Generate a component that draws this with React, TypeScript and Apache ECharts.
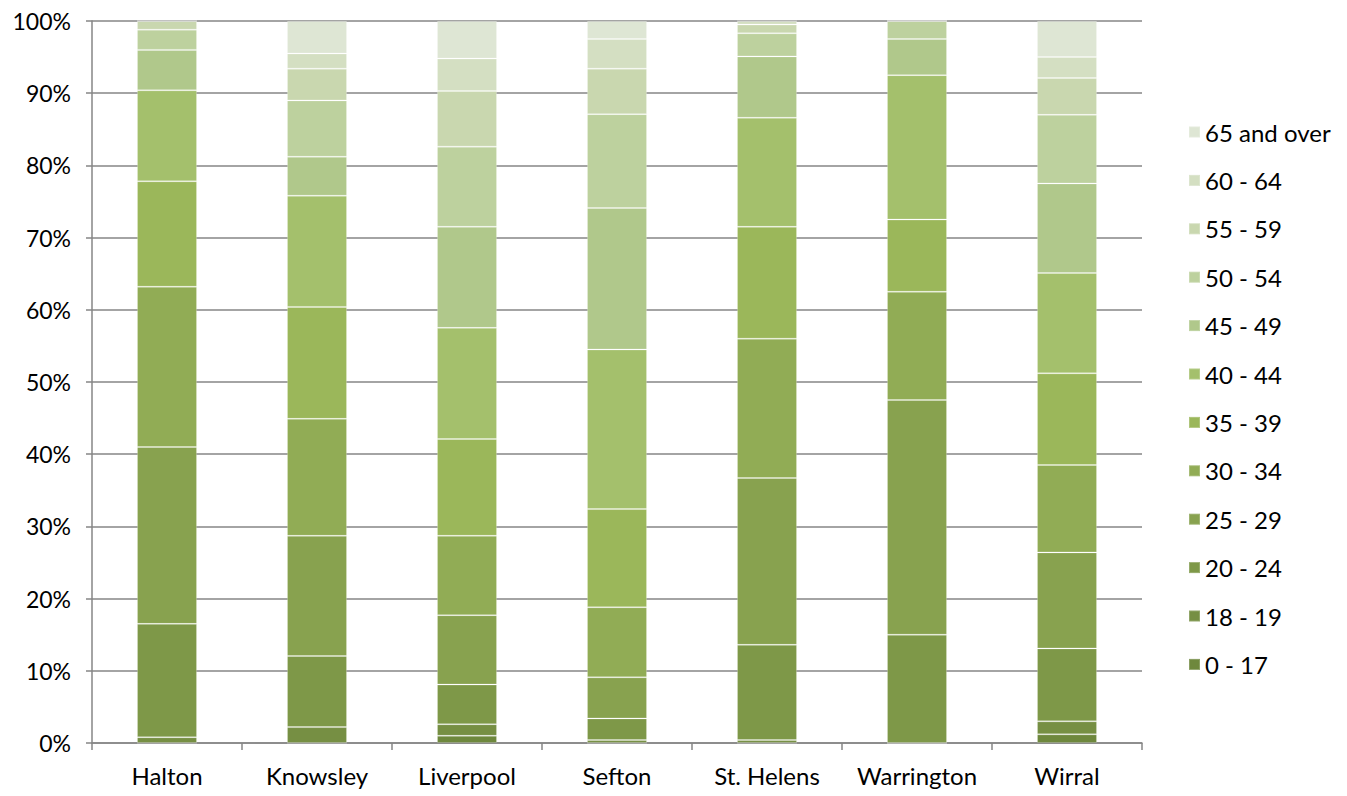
import React, { useEffect, useRef } from "react";
import * as echarts from "echarts";

const categories = ["Halton", "Knowsley", "Liverpool", "Sefton", "St. Helens", "Warrington", "Wirral"];
const seriesNames = ["0 - 17", "18 - 19", "20 - 24", "25 - 29", "30 - 34", "35 - 39", "40 - 44", "45 - 49", "50 - 54", "55 - 59", "60 - 64", "65 and over"];
const colors = ["#6e883d", "#768f43", "#7e9848", "#88a24f", "#91ac55", "#9bb75a", "#a4c06c", "#b0c88b", "#bdd19e", "#c9d7af", "#d4dfc2", "#dee6d4"];

// values per age band, one entry per district (percent share)
const age0_17 = [0, 0, 1.0, 0, 0, 0, 1.2];
const age18_19 = [0.8, 2.2, 1.6, 0.4, 0.4, 0, 1.8];
const age20_24 = [15.7, 9.85, 5.5, 3.0, 13.2, 15.0, 10.1];
const age25_29 = [24.5, 16.65, 9.6, 5.7, 23.1, 32.5, 13.3];
const age30_34 = [22.2, 16.2, 11.0, 9.7, 19.3, 15.0, 12.1];
const age35_39 = [14.6, 15.5, 13.4, 13.6, 15.5, 10.0, 12.7];
const age40_44 = [12.6, 15.4, 15.4, 22.1, 15.1, 20.0, 13.9];
const age45_49 = [5.6, 5.4, 14.0, 19.6, 8.5, 5.0, 12.4];
const age50_54 = [2.8, 7.8, 11.1, 13.0, 3.2, 2.5, 9.5];
const age55_59 = [1.2, 4.4, 7.7, 6.3, 1.2, 0, 5.1];
const age60_64 = [0, 2.1, 4.5, 4.1, 0.5, 0, 2.9];
const age65_over = [0, 4.5, 5.2, 2.5, 0, 0, 5.0];

const yTicks = [0, 100, 10];

const allSeries = [age0_17, age18_19, age20_24, age25_29, age30_34, age35_39, age40_44, age45_49, age50_54, age55_59, age60_64, age65_over];

export default function App() {
  const ref = useRef<HTMLDivElement>(null);
  useEffect(() => {
    if (!ref.current) return;
    const chart = echarts.init(ref.current, null, { renderer: "svg" });
    const font = "Lato, 'Open Sans', sans-serif";
    chart.setOption({
      animation: false,
      backgroundColor: "#ffffff",
      color: colors,
      grid: { left: 92, right: 205, top: 21, bottom: 53, containLabel: false },
      legend: {
        orient: "vertical",
        left: 1183,
        top: 115,
        itemWidth: 11,
        itemHeight: 11,
        itemGap: 24.4,
        icon: "rect",
        data: [...seriesNames].reverse(),
        textStyle: { fontFamily: font, fontSize: 24, color: "#000", lineHeight: 22 },
      },
      xAxis: {
        type: "category",
        data: categories,
        axisLine: { lineStyle: { color: "#868686", width: 1.5 } },
        axisTick: { show: true, length: 7, lineStyle: { color: "#868686", width: 1.5 } },
        axisLabel: { interval: 0, fontFamily: font, fontSize: 24, color: "#000", margin: 20 },
      },
      yAxis: {
        type: "value",
        min: yTicks[0],
        max: yTicks[1],
        interval: yTicks[2],
        axisLine: { show: true, lineStyle: { color: "#868686", width: 1.5 } },
        axisTick: { show: true, length: 6, lineStyle: { color: "#868686", width: 1.5 } },
        splitLine: { lineStyle: { color: "#868686", width: 1.5 } },
        axisLabel: { fontFamily: font, fontSize: 23, color: "#000", margin: 21, formatter: "{value}%" },
      },
      series: seriesNames.map((name, i) => ({
        name,
        type: "bar",
        stack: "total",
        barWidth: 60,
        data: allSeries[i],
        itemStyle: { color: colors[i], borderColor: "rgba(255,255,255,0.2)", borderWidth: 1 },
      })),
    });
    return () => chart.dispose();
  }, []);
  return <div ref={ref} style={{ position: "fixed", left: 0, top: 0, width: 1347, height: 796 }} />;
}
